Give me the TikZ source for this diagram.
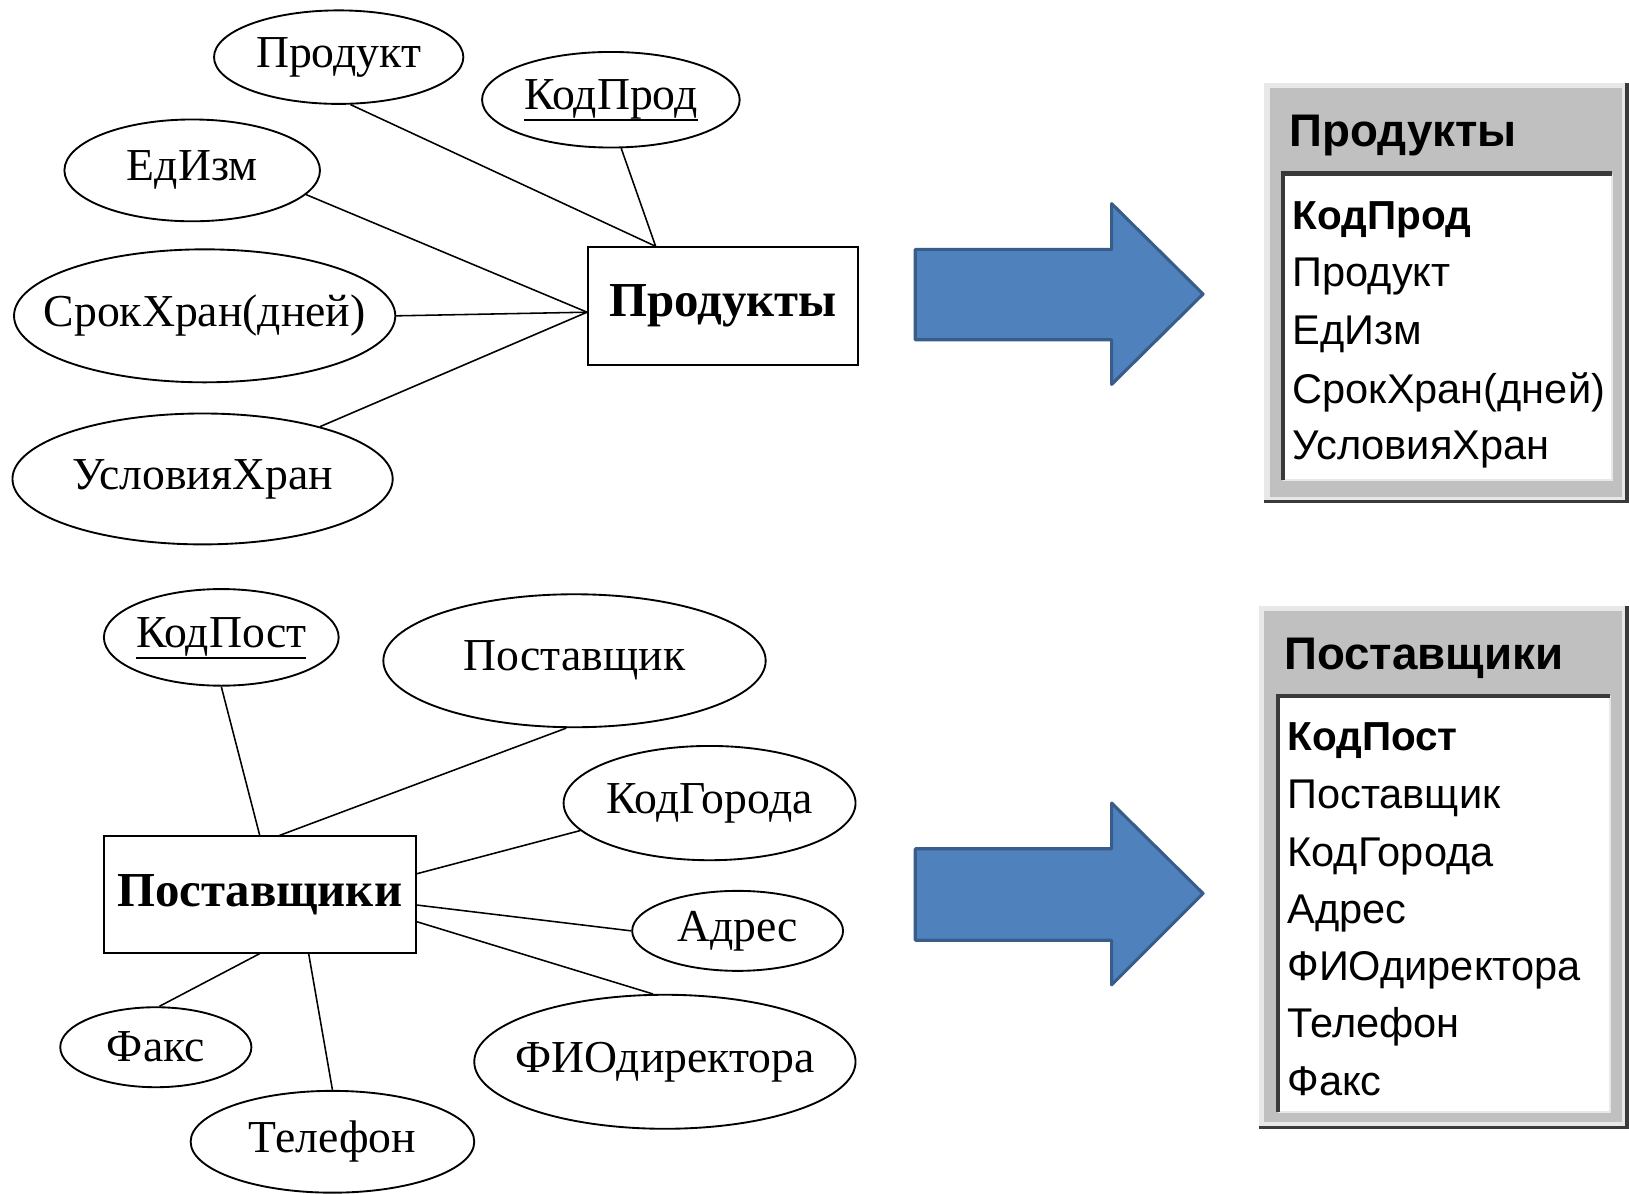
\documentclass[tikz,border=0pt]{standalone}
\usepackage{fontspec}
\setmainfont{Liberation Serif}
\newfontfamily\tabfont{Liberation Sans}
\usetikzlibrary{shapes.geometric,calc}

\definecolor{arrowfill}{HTML}{4F81BD}
\definecolor{arrowline}{HTML}{385D8A}
\definecolor{hdrgray}{HTML}{C0C0C0}
\definecolor{rimlight}{HTML}{E8E8E8}
\definecolor{rimdark}{HTML}{3A3A3A}

% attribute label: zero-width box so the ellipse keeps its own size
\newcommand\attrtext[1]{\makebox[0pt]{#1}}
% key attribute: text with a heavy underline that does not change the box depth
\newcommand\keyattr[1]{\makebox[0pt]{\setbox0=\hbox{#1}\rlap{\smash{\raisebox{-11pt}{\rule{\wd0}{2.5pt}}}}\box0}}

\begin{document}
\begin{tikzpicture}[x=1pt,y=-1pt,
  attr/.style={ellipse,draw,line width=1.8pt,inner sep=0pt,
    font=\fontsize{44}{44}\selectfont},
  entity/.style={rectangle,draw,line width=1.8pt,inner sep=0pt,
    font=\fontsize{47}{47}\selectfont\bfseries},
  link/.style={line width=1.5pt},
  bigarrow/.style={fill=arrowfill,draw=arrowline,line width=3pt,line join=round},
  tabtitle/.style={anchor=base west,inner sep=0pt,font=\tabfont\fontsize{44}{44}\selectfont\bfseries},
  tabrow/.style={anchor=base west,inner sep=0pt,font=\tabfont\fontsize{40}{40}\selectfont},
  tabkey/.style={tabrow,font=\tabfont\fontsize{39}{39}\selectfont\bfseries}]

\useasboundingbox (0,0) rectangle (1568,1149);

% ---------- Products: entity and attributes ----------
\node[entity,minimum width=260,minimum height=113] (ent) at (696,294.5) {Продукты};
\node[attr,minimum width=240,minimum height=90]  (prod)  at (326,55)  {\attrtext{Продукт}};
\node[attr,minimum width=248,minimum height=92]  (kprod) at (588,96)  {\keyattr{КодПрод}};
\node[attr,minimum width=246,minimum height=98]  (edizm) at (185,164) {\attrtext{ЕдИзм}};
\node[attr,minimum width=367,minimum height=128] (srok)  at (197,304) {\attrtext{СрокХран(дней)}};
\node[attr,minimum width=366,minimum height=126] (uslov) at (195,461) {\attrtext{УсловияХран}};

\coordinate (enttop) at ($(ent.north west)+(66,0)$);
\coordinate (entleft) at ($(ent.west)+(0,6)$);
\draw[link] (prod.-76)  -- (enttop);
\draw[link] (kprod.-78) -- (enttop);
\draw[link] (edizm.-12) -- (entleft);
\draw[link] (srok.east) -- (entleft);
\draw[link] (uslov.24)  -- (entleft);

% ---------- Suppliers: entity and attributes ----------
\node[entity,minimum width=300,minimum height=112] (sup) at (250,861) {Поставщики};
\node[attr,minimum width=226,minimum height=93]  (kpost) at (213,613.5) {\keyattr{КодПост}};
\node[attr,minimum width=368,minimum height=128] (post)  at (553,636)   {\attrtext{Поставщик}};
\node[attr,minimum width=281,minimum height=110] (kgor)  at (683,773)   {\attrtext{КодГорода}};
\node[attr,minimum width=203,minimum height=77]  (adres) at (710,896)   {\attrtext{Адрес}};
\node[attr,minimum width=367,minimum height=129] (fio)   at (640,1022)  {\attrtext{ФИОдиректора}};
\node[attr,minimum width=184,minimum height=77]  (faks)  at (150,1008)  {\attrtext{Факс}};
\node[attr,minimum width=273,minimum height=98]  (tel)   at (320,1099)  {\attrtext{Телефон}};

\draw[link] (kpost.south) -- (sup.north);
\draw[link] (post.-97)    -- ($(sup.north west)+(170,0)$);
\draw[link] (kgor.-168)   -- ($(sup.north east)+(0,37)$);
\draw[link] (adres.west)  -- ($(sup.north east)+(0,67)$);
\draw[link] (fio.100)     -- ($(sup.north east)+(0,83)$);
\draw[link] (faks.85)     -- (sup.south);
\draw[link] (tel.north)   -- ($(sup.south west)+(198,0)$);

% ---------- Block arrows ----------
\draw[bigarrow] (881,240) -- (1070,240) -- (1070,196) -- (1158,283)
  -- (1070,370) -- (1070,327) -- (881,327) -- cycle;
\draw[bigarrow] (881,817) -- (1070,817) -- (1070,773) -- (1158,860)
  -- (1070,948) -- (1070,905) -- (881,905) -- cycle;

% ---------- Table: Продукты ----------
\fill[rimlight] (1217,80) rectangle (1566,483);
\fill[hdrgray] (1222,85) rectangle (1561,478);
\draw[rimdark,line width=3pt] (1217,483) -- (1566,483) -- (1566,80);
\fill[white] (1235,167) rectangle (1552,462);
\draw[rimlight,line width=2pt] (1552,167) -- (1552,462) -- (1235,462);
\draw[rimdark,line width=4pt] (1235,462) -- (1235,167) -- (1552,167);
\node[tabtitle] (t1h) at (1241,141) {Продукты};
\node[tabkey] (t1r1) at (1244,221) {КодПрод};
\node[tabrow] (t1r2) at (1244,276) {Продукт};
\node[tabrow] (t1r3) at (1244,332) {ЕдИзм};
\node[tabrow] (t1r4) at (1244,388) {СрокХран(дней)};
\node[tabrow] (t1r5) at (1244,442) {УсловияХран};

% ---------- Table: Поставщики ----------
\fill[rimlight] (1212,583) rectangle (1566,1085);
\fill[hdrgray] (1217,588) rectangle (1561,1080);
\draw[rimdark,line width=3pt] (1212,1085) -- (1566,1085) -- (1566,583);
\fill[white] (1230,670) rectangle (1550,1070);
\draw[rimlight,line width=2pt] (1550,670) -- (1550,1070) -- (1230,1070);
\draw[rimdark,line width=4pt] (1230,1070) -- (1230,670) -- (1550,670);
\node[tabtitle] (t2h) at (1236,644) {Поставщики};
\node[tabkey] (t2r1) at (1239,722) {КодПост};
\node[tabrow] (t2r2) at (1239,778) {Поставщик};
\node[tabrow] (t2r3) at (1239,834) {КодГорода};
\node[tabrow] (t2r4) at (1239,889) {Адрес};
\node[tabrow] (t2r5) at (1239,944) {ФИОдиректора};
\node[tabrow] (t2r6) at (1239,999) {Телефон};
\node[tabrow] (t2r7) at (1239,1054) {Факс};

\end{tikzpicture}
\end{document}
